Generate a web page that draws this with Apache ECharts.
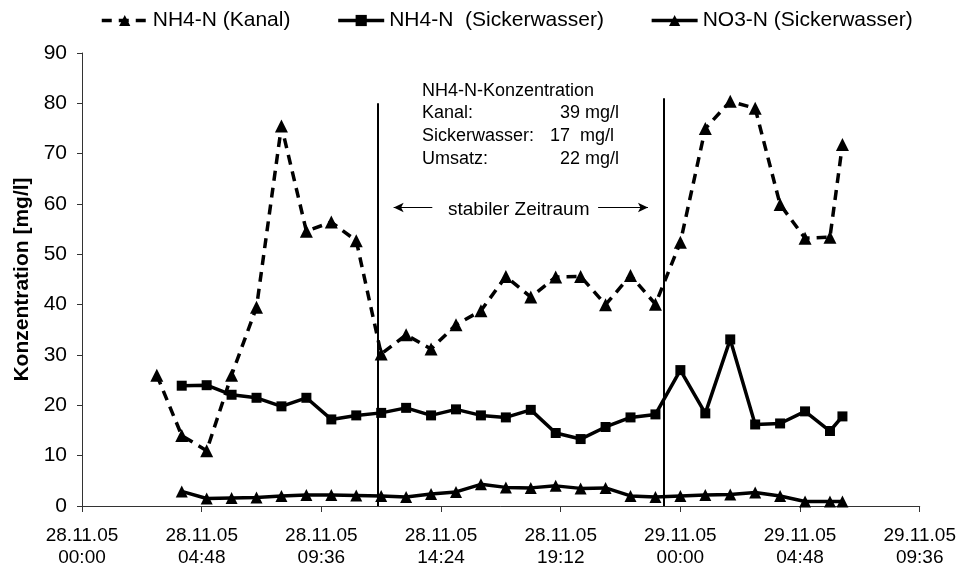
<!DOCTYPE html>
<html>
<head>
<meta charset="utf-8">
<script src="https://cdn.jsdelivr.net/npm/echarts@6/dist/echarts.min.js"></script>
<style>
  html, body { margin: 0; padding: 0; background: #fff; }
  #chart { width: 959px; height: 569px; }
</style>
</head>
<body>
<div id="chart"></div>
<script>
// Stunden ab 28.11.05 00:00
const kanalHours = [3, 4, 5, 6, 7, 8, 9, 10, 11, 12, 13, 14, 15, 16, 17, 18, 19, 20, 21, 22, 23, 24, 25, 26, 27, 28, 29, 30, 30.5];
const kanalNH4 = [26, 14, 11, 26, 39.5, 75.5, 54.6, 56.4, 52.7, 30.2, 34, 31.2, 36, 38.8, 45.6, 41.5, 45.5, 45.6, 40, 45.8, 40.1, 52.4, 75, 80.4, 79, 59.9, 53.2, 53.4, 71.8];

const sickerHours = [4, 5, 6, 7, 8, 9, 10, 11, 12, 13, 14, 15, 16, 17, 18, 19, 20, 21, 22, 23, 24, 25, 26, 27, 28, 29, 30, 30.5];
const sickerNH4 = [23.9, 24, 22.1, 21.5, 19.8, 21.5, 17.2, 18, 18.5, 19.5, 18, 19.2, 18, 17.6, 19.1, 14.5, 13.3, 15.7, 17.6, 18.2, 27, 18.4, 33.1, 16.2, 16.4, 18.8, 14.9, 17.8];
const sickerNO3 = [2.9, 1.5, 1.6, 1.7, 2.0, 2.2, 2.2, 2.1, 2.0, 1.8, 2.4, 2.8, 4.3, 3.7, 3.6, 4.0, 3.5, 3.6, 2.0, 1.8, 2.0, 2.2, 2.3, 2.7, 2.0, 0.9, 0.9, 0.9];

const seriesNames = ['NH4-N (Kanal)', 'NH4-N  (Sickerwasser)', 'NO3-N (Sickerwasser)'];

// stabiler Zeitraum (Stunden) und Höhe der Markierungslinien
const stableStart = 11.85;
const stableEnd = 23.35;
const stableTop = [80, 81];
const arrowLevel = 59.3;
const arrowLeft = [12.5, 14.05];
const arrowRight = [20.7, 22.7];

const summaryLabels = ['Kanal:', 'Sickerwasser:', 'Umsatz:'];
const summaryValues = ['39 mg/l', '17  mg/l', '22 mg/l'];

const FONT = 'Liberation Sans, Arial, sans-serif';

function pairs(xs, ys) {
    return xs.map((x, i) => [x, ys[i]]);
}

function timeLabel(v) {
    let min = Math.round(v * 60);
    let day = 28 + Math.floor(min / 1440);
    min = min % 1440;
    let hh = String(Math.floor(min / 60)).padStart(2, '0');
    let mm = String(min % 60).padStart(2, '0');
    return day + '.11.05\n' + hh + ':' + mm;
}

let lineBase = { color: '#000', width: 3.5 };

let option = {
    animation: false,
    textStyle: { fontFamily: FONT, color: '#000' },
    grid: { left: 82, right: 37, top: 53, bottom: 57 },
    legend: {
        data: seriesNames,
        left: 100,
        top: 10,
        padding: 0,
        itemWidth: 46,
        itemHeight: 14,
        itemGap: 46,
        lineStyle: { width: 3.5 },
        textStyle: { fontSize: 21, color: '#000', fontFamily: FONT }
    },
    xAxis: {
        type: 'value',
        min: 0,
        max: 33.6,
        interval: 4.8,
        axisLine: { lineStyle: { color: '#333', width: 1 } },
        axisTick: { show: true, length: 6, lineStyle: { color: '#333' } },
        splitLine: { show: false },
        axisLabel: {
            formatter: timeLabel,
            fontSize: 19,
            lineHeight: 22,
            margin: 19,
            color: '#000',
            fontFamily: FONT
        }
    },
    yAxis: {
        type: 'value',
        min: 0,
        max: 90,
        interval: 10,
        name: 'Konzentration [mg/l]',
        nameLocation: 'middle',
        nameGap: 49,
        nameTextStyle: { fontSize: 21, fontWeight: 'bold', color: '#000', fontFamily: FONT },
        axisLine: { show: true, lineStyle: { color: '#333', width: 1 } },
        axisTick: { show: true, length: 5, lineStyle: { color: '#333' } },
        splitLine: { show: false },
        axisLabel: { fontSize: 21, margin: 15, color: '#000', fontFamily: FONT }
    },
    series: [{
        name: seriesNames[0],
        type: 'line',
        data: pairs(kanalHours, kanalNH4),
        symbol: 'triangle',
        symbolSize: 13,
        itemStyle: { color: '#000' },
        lineStyle: Object.assign({}, lineBase, { type: [10, 7] }),
        z: 3
    }, {
        name: seriesNames[1],
        type: 'line',
        data: pairs(sickerHours, sickerNH4),
        symbol: 'rect',
        symbolSize: 10,
        itemStyle: { color: '#000' },
        lineStyle: lineBase,
        markLine: {
            silent: true,
            symbol: ['none', 'none'],
            label: { show: false },
            lineStyle: { color: '#000', width: 2, type: 'solid' },
            data: [
                [{ coord: [stableStart, 0] }, { coord: [stableStart, stableTop[0]] }],
                [{ coord: [stableEnd, 0] }, { coord: [stableEnd, stableTop[1]] }]
            ]
        }
    }, {
        name: seriesNames[2],
        type: 'line',
        data: pairs(sickerHours, sickerNO3),
        symbol: 'triangle',
        symbolSize: 12,
        itemStyle: { color: '#000' },
        lineStyle: lineBase,
        markLine: {
            silent: true,
            symbolSize: [7, 10],
            label: { show: false },
            lineStyle: { color: '#000', width: 1, type: 'solid' },
            data: [
                [{ coord: [arrowLeft[0], arrowLevel], symbol: 'arrow' }, { coord: [arrowLeft[1], arrowLevel], symbol: 'none' }],
                [{ coord: [arrowRight[0], arrowLevel], symbol: 'none' }, { coord: [arrowRight[1], arrowLevel], symbol: 'arrow' }]
            ]
        }
    }],
    graphic: [
        { type: 'text', left: 422, top: 82, style: { text: 'NH4-N-Konzentration', font: '18px ' + FONT, fill: '#000' } },
        { type: 'text', left: 422, top: 104, style: { text: summaryLabels[0], font: '18px ' + FONT, fill: '#000' } },
        { type: 'text', left: 422, top: 127, style: { text: summaryLabels[1], font: '18px ' + FONT, fill: '#000' } },
        { type: 'text', left: 422, top: 150, style: { text: summaryLabels[2], font: '18px ' + FONT, fill: '#000' } },
        { type: 'text', left: 560, top: 104, style: { text: summaryValues[0], font: '18px ' + FONT, fill: '#000' } },
        { type: 'text', left: 550, top: 127, style: { text: summaryValues[1], font: '18px ' + FONT, fill: '#000' } },
        { type: 'text', left: 560, top: 150, style: { text: summaryValues[2], font: '18px ' + FONT, fill: '#000' } },
        { type: 'text', left: 448, top: 200, style: { text: 'stabiler Zeitraum', font: '19px ' + FONT, fill: '#000' } }
    ]
};

let chart = echarts.init(document.getElementById('chart'));
chart.setOption(option);
</script>
</body>
</html>
